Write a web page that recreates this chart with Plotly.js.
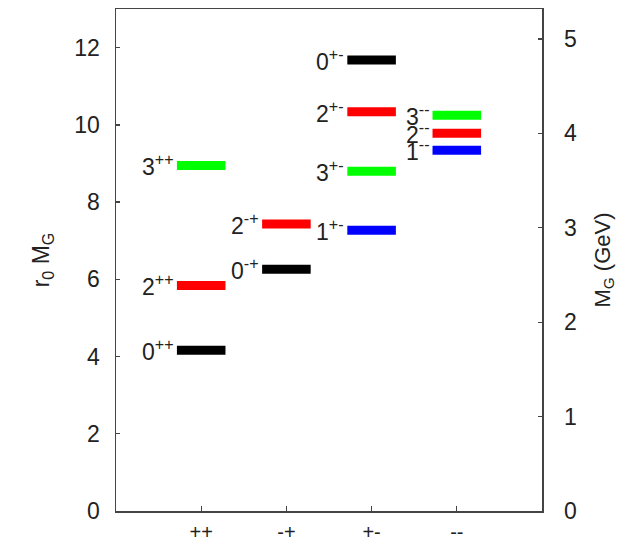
<!DOCTYPE html>
<html>
<head>
<meta charset="utf-8">
<script src="https://cdn.plot.ly/plotly-3.0.1.min.js"></script>
<style>html,body{margin:0;padding:0;background:#fff;}#chart{width:633px;height:541px;}</style>
</head>
<body>
<div id="chart"></div>
<script>
// Categories (PC quantum numbers) along the x axis
const categories = ['++', '-+', '+-', '--'];
// Glueball states: category, spin J, mass in units of r0
const stateCategory = ['++', '++', '++', '-+', '-+', '+-', '+-', '+-', '+-', '--', '--', '--'];
const stateJ        = [0, 2, 3, 0, 2, 0, 1, 2, 3, 1, 2, 3];
const stateMass     = [4.16, 5.84, 8.95, 6.26, 7.43, 11.68, 7.27, 10.34, 8.80, 9.34, 9.78, 10.25];
// Colour per spin J
const spinColors = {0: '#000000', 1: '#0000ff', 2: '#ff0000', 3: '#00ff00'};
// r0 in GeV^-1 (conversion for right axis)
const R0_GEV = 2.445;
const yMax = 13;

const halfWidth = 0.285;
const traces = [];
const annotations = [];
const fontFam = 'Arial, "Liberation Sans", sans-serif';

stateMass.forEach((m, i) => {
  const c = categories.indexOf(stateCategory[i]) + 1;
  traces.push({
    type: 'scatter', mode: 'lines',
    x: [c - halfWidth, c + halfWidth], y: [m, m],
    line: {color: spinColors[stateJ[i]], width: 9},
    hoverinfo: 'skip', showlegend: false
  });
  annotations.push({
    x: c - halfWidth, y: m, xref: 'x', yref: 'y',
    xanchor: 'right', yanchor: 'middle', xshift: -1, yshift: 0,
    showarrow: false,
    text: stateJ[i] + '<sup>' + stateCategory[i] + '</sup>',
    font: {family: fontFam, size: 23, color: '#222'}
  });
});

// dummy trace to anchor right axis
traces.push({type: 'scatter', mode: 'none', x: [0], y: [0], yaxis: 'y2', hoverinfo: 'skip', showlegend: false});

const axisLine = '#444';
const layout = {
  width: 633, height: 541,
  margin: {l: 116, r: 91, t: 9, b: 30},
  paper_bgcolor: '#fff', plot_bgcolor: '#fff',
  font: {family: fontFam, color: '#222'},
  showlegend: false,
  xaxis: {
    range: [0, categories.length + 1],
    tickvals: categories.map((_, i) => i + 1),
    ticktext: categories,
    ticks: 'inside', ticklen: 5, tickcolor: axisLine, tickwidth: 1.3,
    showline: true, linecolor: axisLine, linewidth: 1.5, mirror: true,
    showgrid: false, zeroline: false,
    tickfont: {size: 20, color: '#222'},
    ticklabelstandoff: 2
  },
  yaxis: {
    range: [0, yMax], dtick: 2,
    ticks: 'inside', ticklen: 4, tickcolor: axisLine, tickwidth: 1.3,
    showline: true, linecolor: axisLine, linewidth: 1.5,
    showgrid: false, zeroline: false,
    tickfont: {size: 23, color: '#222'},
    ticklabelstandoff: 10,
    title: {text: 'r<sub>0</sub> M<sub>G</sub>', font: {size: 23, color: '#222'}, standoff: 18}
  },
  yaxis2: {
    overlaying: 'y', side: 'right',
    range: [0, yMax / R0_GEV], dtick: 1,
    ticks: 'inside', ticklen: 4, tickcolor: axisLine, tickwidth: 1.3,
    showline: true, linecolor: axisLine, linewidth: 1.5,
    showgrid: false, zeroline: false,
    tickfont: {size: 23, color: '#222'},
    ticklabelstandoff: 16,
    title: {text: 'M<sub>G</sub> (GeV)', font: {size: 22, color: '#222'}, standoff: 18}
  },
  annotations: annotations
};

Plotly.newPlot('chart', traces, layout, {staticPlot: true, displayModeBar: false});
</script>
</body>
</html>
